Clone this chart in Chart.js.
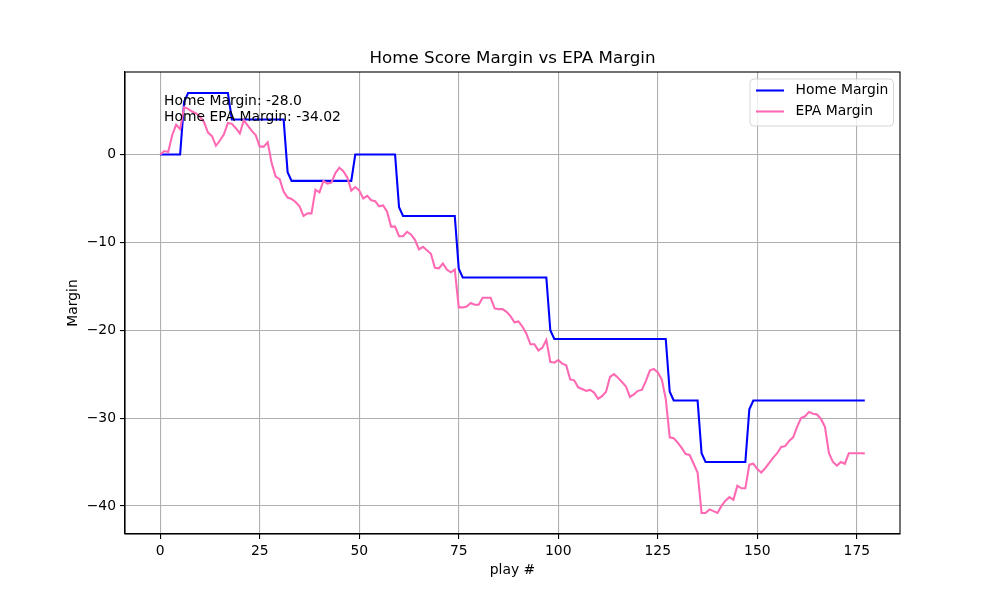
<!DOCTYPE html>
<html>
<head>
<meta charset="utf-8">
<script src="https://cdn.jsdelivr.net/npm/chart.js@4"></script>
<style>
  html, body { margin: 0; padding: 0; background: #fff; }
</style>
</head>
<body>
<canvas id="margin-chart" width="1000" height="600"></canvas>
<script>
// Home score margin after each play
var homeMargin = [
  0, 0, 0, 0, 0, 0, 6, 7, 7, 7,
  7, 7, 7, 7, 7, 7, 7, 7, 4, 4,
  4, 4, 4, 4, 4, 4, 4, 4, 4, 4,
  4, 4, -2, -3, -3, -3, -3, -3, -3, -3,
  -3, -3, -3, -3, -3, -3, -3, -3, -3, 0,
  0, 0, 0, 0, 0, 0, 0, 0, 0, 0,
  -6, -7, -7, -7, -7, -7, -7, -7, -7, -7,
  -7, -7, -7, -7, -7, -13, -14, -14, -14, -14,
  -14, -14, -14, -14, -14, -14, -14, -14, -14, -14,
  -14, -14, -14, -14, -14, -14, -14, -14, -20, -21,
  -21, -21, -21, -21, -21, -21, -21, -21, -21, -21,
  -21, -21, -21, -21, -21, -21, -21, -21, -21, -21,
  -21, -21, -21, -21, -21, -21, -21, -21, -27, -28,
  -28, -28, -28, -28, -28, -28, -34, -35, -35, -35,
  -35, -35, -35, -35, -35, -35, -35, -35, -29, -28,
  -28, -28, -28, -28, -28, -28, -28, -28, -28, -28,
  -28, -28, -28, -28, -28, -28, -28, -28, -28, -28,
  -28, -28, -28, -28, -28, -28, -28, -28
];

// Home EPA margin after each play
var epaMargin = [
  0, 0.4, 0.3, 2.2, 3.4, 2.9, 5.4, 5.2, 4.9, 4.7,
  4.3, 3.7, 2.5, 2.1, 1.0, 1.6, 2.3, 3.6, 3.5, 3.0,
  2.4, 3.9, 3.3, 2.7, 2.2, 0.9, 0.9, 1.4, -1.0, -2.5,
  -2.8, -4.2, -4.9, -5.05, -5.4, -5.9, -7.0, -6.7, -6.7, -4.0,
  -4.3, -3.0, -3.3, -3.2, -2.1, -1.5, -1.9, -2.6, -4.1, -3.7,
  -4.1, -5.0, -4.7, -5.2, -5.3, -5.9, -5.8, -6.5, -8.2, -8.2,
  -9.3, -9.3, -8.8, -9.1, -9.7, -10.8, -10.5, -10.9, -11.3, -12.9,
  -12.95, -12.4, -13.1, -13.4, -13.1, -17.4, -17.4, -17.3, -16.9, -17.1,
  -17.1, -16.3, -16.3, -16.3, -17.5, -17.6, -17.6, -17.9, -18.4, -19.1,
  -19.0, -19.6, -20.4, -21.6, -21.6, -22.3, -22.0, -21.1, -23.6, -23.7,
  -23.4, -23.8, -24.0, -25.6, -25.7, -26.5, -26.7, -26.9, -26.8, -27.1,
  -27.8, -27.5, -27.0, -25.3, -25.0, -25.4, -25.9, -26.4, -27.6, -27.3,
  -26.9, -26.8, -25.8, -24.6, -24.4, -24.8, -25.6, -27.8, -32.2, -32.3,
  -32.8, -33.4, -34.1, -34.2, -35.2, -36.2, -40.8, -40.8, -40.4, -40.6,
  -40.8, -40.0, -39.4, -39.0, -39.3, -37.7, -38.0, -38.0, -35.3, -35.2,
  -35.8, -36.2, -35.7, -35.1, -34.5, -34.0, -33.3, -33.2, -32.6, -32.2,
  -31.0, -30.0, -29.8, -29.3, -29.5, -29.6, -30.1, -31.0, -34.0, -35.0,
  -35.4, -35.0, -35.2, -34.0, -34.0, -34.0, -34.0, -34.02
];

// Tick positions
var xTicks = [0, 25, 50, 75, 100, 125, 150, 175];
var yTicks = [-40, -30, -20, -10, 0];

// Final values shown in the corner note
var finalHome = '-28.0';
var finalEpa = '-34.02';

var FONT = 'DejaVu Sans';
var PX10 = 13.9; // 10pt at 100dpi

function toPoints(arr) {
  return arr.map(function (v, i) { return { x: i, y: v }; });
}

// Title, frame, corner note and legend, placed like matplotlib does
var extras = {
  id: 'extras',
  afterDatasetsDraw: function (chart) {
    var ctx = chart.ctx;
    var a = chart.chartArea;
    ctx.save();

    // axes box
    ctx.strokeStyle = '#000';
    ctx.lineWidth = 1.1;
    ctx.strokeRect(a.left, a.top, a.right - a.left, a.bottom - a.top);

    // title centred over the axes
    ctx.fillStyle = '#000';
    ctx.font = '16.7px "' + FONT + '"';
    ctx.textAlign = 'center';
    ctx.textBaseline = 'middle';
    ctx.fillText('Home Score Margin vs EPA Margin', (a.left + a.right) / 2, 58.5);

    // note in the upper left
    ctx.font = PX10 + 'px "' + FONT + '"';
    ctx.textAlign = 'left';
    ctx.fillText('Home Margin: ' + finalHome, 164, 101.5);
    ctx.fillText('Home EPA Margin: ' + finalEpa, 164, 117.5);

    // legend box
    var lx = 750, ly = 79, lw = 143.5, lh = 47, r = 4;
    ctx.beginPath();
    ctx.moveTo(lx + r, ly);
    ctx.arcTo(lx + lw, ly, lx + lw, ly + lh, r);
    ctx.arcTo(lx + lw, ly + lh, lx, ly + lh, r);
    ctx.arcTo(lx, ly + lh, lx, ly, r);
    ctx.arcTo(lx, ly, lx + lw, ly, r);
    ctx.closePath();
    ctx.fillStyle = 'rgba(255,255,255,0.8)';
    ctx.fill();
    ctx.strokeStyle = 'rgba(204,204,204,0.8)';
    ctx.lineWidth = 1;
    ctx.stroke();

    var items = [
      { label: 'Home Margin', color: '#0000ff', y: 90.5 },
      { label: 'EPA Margin', color: '#ff69b4', y: 111.5 }
    ];
    items.forEach(function (it) {
      ctx.beginPath();
      ctx.moveTo(756, it.y);
      ctx.lineTo(784, it.y);
      ctx.strokeStyle = it.color;
      ctx.lineWidth = 2.08;
      ctx.stroke();
      ctx.fillStyle = '#000';
      ctx.fillText(it.label, 795.5, it.y);
    });

    ctx.restore();
  }
};

var ctx = document.getElementById('margin-chart').getContext('2d');

var myChart = new Chart(ctx, {
  type: 'line',
  data: {
    datasets: [{
      label: 'EPA Margin',
      data: toPoints(epaMargin),
      borderColor: '#ff69b4',
      borderWidth: 2.08,
      pointRadius: 0,
      tension: 0,
      order: 0
    }, {
      label: 'Home Margin',
      data: toPoints(homeMargin),
      borderColor: '#0000ff',
      borderWidth: 2.08,
      pointRadius: 0,
      tension: 0,
      order: 1
    }]
  },
  options: {
    responsive: false,
    animation: false,
    devicePixelRatio: 1,
    layout: { padding: { left: 0, right: 100, top: 72, bottom: 0 } },
    plugins: {
      legend: { display: false },
      tooltip: { enabled: false },
      title: { display: false }
    },
    scales: {
      x: {
        type: 'linear',
        min: -8.85,
        max: 185.85,
        afterBuildTicks: function (scale) {
          scale.ticks = xTicks.map(function (v) { return { value: v }; });
        },
        afterFit: function (scale) {
          scale.height = 66;
          scale.paddingLeft = 0;
          scale.paddingRight = 0;
        },
        grid: {
          color: '#b0b0b0',
          lineWidth: 1.1,
          tickColor: '#000',
          tickLength: 5
        },
        border: { color: '#000', width: 1.1 },
        ticks: {
          color: '#000',
          padding: 4,
          maxRotation: 0,
          font: { family: FONT, size: PX10 },
          callback: function (v) { return String(v); }
        },
        title: {
          display: true,
          text: 'play #',
          color: '#000',
          font: { family: FONT, size: PX10 },
          padding: { top: 0, bottom: 21 }
        }
      },
      y: {
        type: 'linear',
        min: -43.2,
        max: 9.4,
        afterBuildTicks: function (scale) {
          scale.ticks = yTicks.map(function (v) { return { value: v }; });
        },
        afterFit: function (scale) {
          scale.width = 125;
          scale.paddingTop = 0;
          scale.paddingBottom = 0;
        },
        grid: {
          color: '#b0b0b0',
          lineWidth: 1.1,
          tickColor: '#000',
          tickLength: 5
        },
        border: { color: '#000', width: 1.1 },
        ticks: {
          color: '#000',
          padding: 4,
          font: { family: FONT, size: PX10 },
          callback: function (v) { return String(v).replace('-', '\u2212'); }
        },
        title: {
          display: true,
          text: 'Margin',
          color: '#000',
          font: { family: FONT, size: PX10 },
          padding: { top: 65, bottom: 0 }
        }
      }
    }
  },
  plugins: [extras]
});
</script>
</body>
</html>
